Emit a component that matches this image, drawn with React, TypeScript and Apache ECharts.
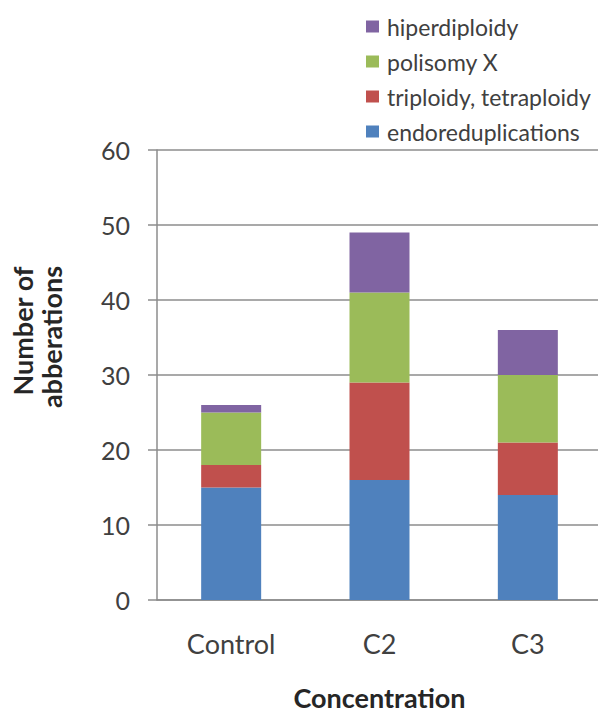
import React, { useEffect, useRef } from "react";
import * as echarts from "echarts";

const categories = ["Control", "C2", "C3"];
const endoreduplications = [15, 16, 14];
const triploidy = [3, 13, 7];
const polisomy = [7, 12, 9];
const hiperdiploidy = [1, 8, 6];
const seriesNames = ["endoreduplications", "triploidy, tetraploidy", "polisomy X", "hiperdiploidy"];
const colors = ["#4F81BD", "#C0504D", "#9BBB59", "#8064A2"];
const yTitleLines = ["Number of", "abberations"];

export default function App() {
  const ref = useRef<HTMLDivElement>(null);
  useEffect(() => {
    const chart = echarts.init(ref.current!, null, { renderer: "svg" });
    const values = [endoreduplications, triploidy, polisomy, hiperdiploidy];
    const font = "Lato, 'Open Sans', sans-serif";
    const titleStyle = { fontSize: 27, fontWeight: "bold", fill: "#262626", fontFamily: font, align: "center", verticalAlign: "middle" };
    chart.setOption({
      animation: false,
      textStyle: { fontFamily: font },
      legend: {
        orient: "vertical",
        left: 366,
        top: 15,
        padding: 0,
        itemWidth: 13,
        itemHeight: 12,
        itemGap: 12,
        icon: "rect",
        data: [...seriesNames].reverse(),
        textStyle: { fontSize: 23, color: "#404040", fontFamily: font, padding: [0, 0, 0, 3] },
      },
      graphic: [
        { type: "text", x: 22, y: 331, rotation: Math.PI / 2, style: { ...titleStyle, text: yTitleLines[0] } },
        { type: "text", x: 51, y: 337, rotation: Math.PI / 2, style: { ...titleStyle, text: yTitleLines[1] } },
      ],
      grid: { left: 157, right: 4, top: 150, bottom: 116, containLabel: false },
      xAxis: {
        type: "category",
        data: categories,
        name: "Concentration",
        nameLocation: "middle",
        nameGap: 84,
        nameTextStyle: { fontSize: 27, fontWeight: "bold", color: "#262626", fontFamily: font },
        axisLine: { lineStyle: { color: "#8c8c8c", width: 1.5 } },
        axisTick: { length: 8, lineStyle: { color: "#8c8c8c", width: 1.5 } },
        axisLabel: { fontSize: 27, color: "#404040", margin: 30, fontFamily: font },
      },
      yAxis: {
        type: "value",
        min: 0,
        max: 60,
        interval: 10,
        axisLine: { show: true, lineStyle: { color: "#8c8c8c", width: 1.5 } },
        axisTick: { show: true, length: 9, lineStyle: { color: "#8c8c8c", width: 1.5 } },
        splitLine: { lineStyle: { color: "#8c8c8c", width: 1.5 } },
        axisLabel: { fontSize: 25, color: "#404040", margin: 27, fontFamily: font },
      },
      series: seriesNames.map((name, i) => ({
        name,
        type: "bar",
        stack: "total",
        barWidth: 60,
        data: values[i],
        itemStyle: { color: colors[i] },
      })),
    });
    return () => chart.dispose();
  }, []);
  return <div ref={ref} style={{ width: 606, height: 716, margin: -8 }} />;
}
